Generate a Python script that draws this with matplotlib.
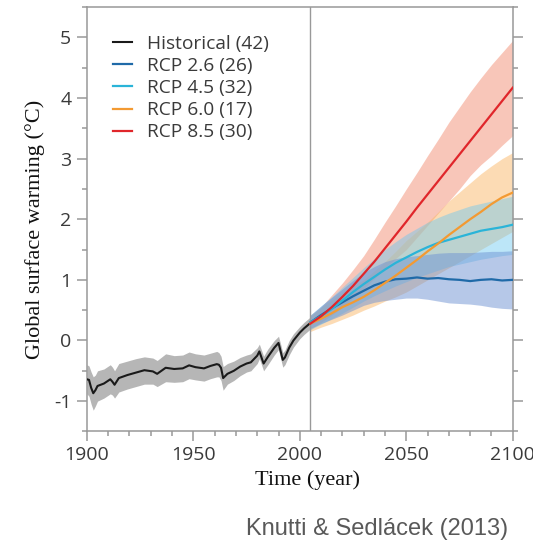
import matplotlib
matplotlib.use("Agg")
import matplotlib.pyplot as plt
from matplotlib.ticker import MultipleLocator

# ---------------- data ----------------
hist_years = [1900,1901,1902,1903,1904,1905,1908,1911,1912,1913,1915,1919,1923,1927,1931,1933,
              1937,1941,1945,1948,1951,1955,1958,1961,1962,1963,1964,1966,1969,1972,1975,1977,
              1980,1981,1983,1985,1988,1990,1991,1992,1993,1995,1997,2000,2002,2005]
hist_mean = [-0.64,-0.65,-0.78,-0.87,-0.82,-0.75,-0.71,-0.64,-0.68,-0.73,-0.62,-0.57,-0.53,-0.49,-0.51,-0.55,
             -0.45,-0.47,-0.46,-0.41,-0.44,-0.46,-0.42,-0.39,-0.40,-0.45,-0.62,-0.55,-0.50,-0.43,-0.38,-0.36,
             -0.25,-0.18,-0.38,-0.27,-0.12,-0.04,-0.18,-0.32,-0.28,-0.12,0.00,0.13,0.20,0.29]
hist_lo = [-0.88,-0.92,-1.05,-1.15,-1.08,-1.00,-0.95,-0.88,-0.90,-0.95,-0.85,-0.80,-0.76,-0.72,-0.72,-0.76,
           -0.68,-0.69,-0.68,-0.63,-0.65,-0.67,-0.63,-0.60,-0.60,-0.66,-0.82,-0.72,-0.66,-0.58,-0.52,-0.50,
           -0.38,-0.30,-0.50,-0.40,-0.24,-0.15,-0.30,-0.44,-0.40,-0.24,-0.11,0.03,0.10,0.19]
hist_hi = [-0.40,-0.42,-0.52,-0.60,-0.57,-0.50,-0.47,-0.40,-0.44,-0.50,-0.38,-0.34,-0.30,-0.27,-0.29,-0.33,
           -0.22,-0.25,-0.24,-0.19,-0.22,-0.24,-0.21,-0.18,-0.20,-0.26,-0.43,-0.38,-0.34,-0.28,-0.24,-0.22,
           -0.12,-0.06,-0.26,-0.14,0.00,0.07,-0.06,-0.20,-0.16,0.00,0.11,0.23,0.30,0.39]

rcp_years = [2005,2010,2015,2020,2025,2030,2035,2040,2045,2050,2055,2060,2065,2070,2075,2080,2085,2090,2095,2100]

rcp26_mean = [0.30,0.42,0.53,0.63,0.73,0.82,0.91,0.97,1.01,1.02,1.04,1.02,1.03,1.01,1.00,0.98,1.00,1.01,0.99,1.00]
rcp26_lo   = [0.20,0.28,0.35,0.42,0.50,0.58,0.63,0.66,0.68,0.70,0.70,0.68,0.65,0.62,0.61,0.60,0.58,0.55,0.53,0.52]
rcp26_hi   = [0.42,0.57,0.71,0.85,0.99,1.12,1.22,1.30,1.35,1.38,1.40,1.42,1.44,1.45,1.45,1.45,1.46,1.47,1.47,1.48]

rcp45_mean = [0.30,0.40,0.52,0.66,0.80,0.93,1.05,1.17,1.28,1.37,1.46,1.54,1.61,1.66,1.71,1.76,1.81,1.84,1.87,1.91]
rcp45_lo   = [0.18,0.27,0.36,0.45,0.55,0.65,0.74,0.82,0.90,0.97,1.04,1.10,1.16,1.22,1.26,1.30,1.34,1.37,1.40,1.42]
rcp45_hi   = [0.42,0.57,0.72,0.88,1.04,1.20,1.35,1.50,1.63,1.75,1.85,1.95,2.03,2.10,2.16,2.22,2.26,2.30,2.34,2.38]

rcp60_mean = [0.28,0.36,0.45,0.55,0.63,0.72,0.83,0.95,1.07,1.20,1.33,1.47,1.60,1.74,1.87,2.00,2.12,2.25,2.36,2.44]
rcp60_lo   = [0.15,0.22,0.28,0.35,0.42,0.50,0.57,0.65,0.72,0.80,0.90,1.00,1.10,1.20,1.30,1.40,1.50,1.60,1.70,1.80]
rcp60_hi   = [0.42,0.55,0.67,0.80,0.90,1.00,1.15,1.30,1.47,1.65,1.80,1.95,2.12,2.30,2.45,2.60,2.75,2.88,3.00,3.10]

rcp85_mean = [0.28,0.40,0.55,0.72,0.90,1.10,1.30,1.52,1.74,1.96,2.19,2.41,2.63,2.85,3.07,3.29,3.51,3.73,3.95,4.17]
rcp85_lo   = [0.18,0.30,0.42,0.55,0.70,0.85,1.02,1.20,1.35,1.50,1.70,1.90,2.10,2.30,2.50,2.72,2.90,3.05,3.22,3.38]
rcp85_hi   = [0.40,0.55,0.75,0.95,1.17,1.40,1.67,1.95,2.22,2.50,2.77,3.05,3.32,3.60,3.85,4.10,4.33,4.55,4.75,4.95]

labels = ["Historical (42)", "RCP 2.6 (26)", "RCP 4.5 (32)", "RCP 6.0 (17)", "RCP 8.5 (30)"]
line_colors = ["#1a1a1a", "#1f6aa8", "#2ab4d8", "#f39a32", "#e0262b"]
band_colors = ["#b6b6b6", "#6f93d3", "#6cc8f0", "#fbb86a", "#f5a48e"]

x_ticks = [1900, 1950, 2000, 2050, 2100]
y_ticks = [-1, 0, 1, 2, 3, 4, 5]

# ---------------- figure ----------------
fig = plt.figure(figsize=(5.33, 5.42), dpi=100)
ax = fig.add_axes([0.163, 0.204, 0.799, 0.783])

tick_font = "Open Sans"
label_font = "Liberation Serif"

# bands (drawn bottom to top: 8.5, 6.0, 4.5, 2.6)
ax.fill_between(rcp_years, rcp85_lo, rcp85_hi, color=band_colors[4], alpha=0.62, lw=0, zorder=1)
ax.fill_between(rcp_years, rcp60_lo, rcp60_hi, color=band_colors[3], alpha=0.5, lw=0, zorder=1.1)
ax.fill_between(rcp_years, rcp45_lo, rcp45_hi, color=band_colors[2], alpha=0.45, lw=0, zorder=1.2)
ax.fill_between(rcp_years, rcp26_lo, rcp26_hi, color=band_colors[1], alpha=0.5, lw=0, zorder=1.3)
ax.fill_between(hist_years, hist_lo, hist_hi, color=band_colors[0], lw=0, zorder=1.4)

# mean lines
ax.plot(hist_years, hist_mean, color=line_colors[0], lw=1.5, label=labels[0], zorder=3)
ax.plot(rcp_years, rcp26_mean, color=line_colors[1], lw=1.6, label=labels[1], zorder=3)
ax.plot(rcp_years, rcp45_mean, color=line_colors[2], lw=1.6, label=labels[2], zorder=3)
ax.plot(rcp_years, rcp60_mean, color=line_colors[3], lw=1.6, label=labels[3], zorder=3)
ax.plot(rcp_years, rcp85_mean, color=line_colors[4], lw=1.6, label=labels[4], zorder=3.1)

ax.axvline(2005, color="#999999", lw=1.0, zorder=2)

ax.set_xlim(1900, 2100)
ax.set_ylim(-1.5, 5.5)

spine_col = "#999999"
for s in ax.spines.values():
    s.set_color(spine_col)
    s.set_linewidth(1.1)

ax.set_xticks(x_ticks)
ax.xaxis.set_minor_locator(MultipleLocator(10))
ax.set_yticks(y_ticks)
ax.yaxis.set_minor_locator(MultipleLocator(0.5))
ax.tick_params(axis="both", which="both", direction="out", color=spine_col, width=1.1)
ax.tick_params(axis="y", which="both", left=True, right=True, labelleft=True, labelright=False)
ax.tick_params(axis="both", which="major", length=7.2)
ax.tick_params(axis="both", which="minor", length=3.6)
ax.tick_params(axis="x", which="major", pad=3)
ax.tick_params(axis="y", which="major", pad=4)
ax.set_xticklabels([str(v) for v in x_ticks])
ax.set_yticklabels([str(v) for v in y_ticks])
for t in ax.get_xticklabels() + ax.get_yticklabels():
    t.set_fontfamily(tick_font)
    t.set_fontsize(14)
    t.set_color("#3a3a3a")

ax.set_xlabel("Time (year)", family=label_font, fontsize=16, color="#111111")
ax.set_ylabel("Global surface warming (\u00b0C)", family=label_font, fontsize=16, color="#111111")
ax.xaxis.set_label_coords(0.517, -0.091)
ax.yaxis.set_label_coords(-0.098, 0.477)

leg = ax.legend(loc="upper left", bbox_to_anchor=(0.062, 0.935), frameon=False,
                prop={"family": tick_font, "size": 13.8}, handlelength=1.0,
                handletextpad=0.78, labelspacing=0.22, borderpad=0, borderaxespad=0)
for t in leg.get_texts():
    t.set_color("#3a3a3a")

fig.text(0.953, 0.012, "Knutti & Sedl\u00e1cek (2013)", family="Liberation Sans", fontsize=17,
         color="#595959", ha="right", va="baseline")

fig.savefig("out.png", dpi=100)
